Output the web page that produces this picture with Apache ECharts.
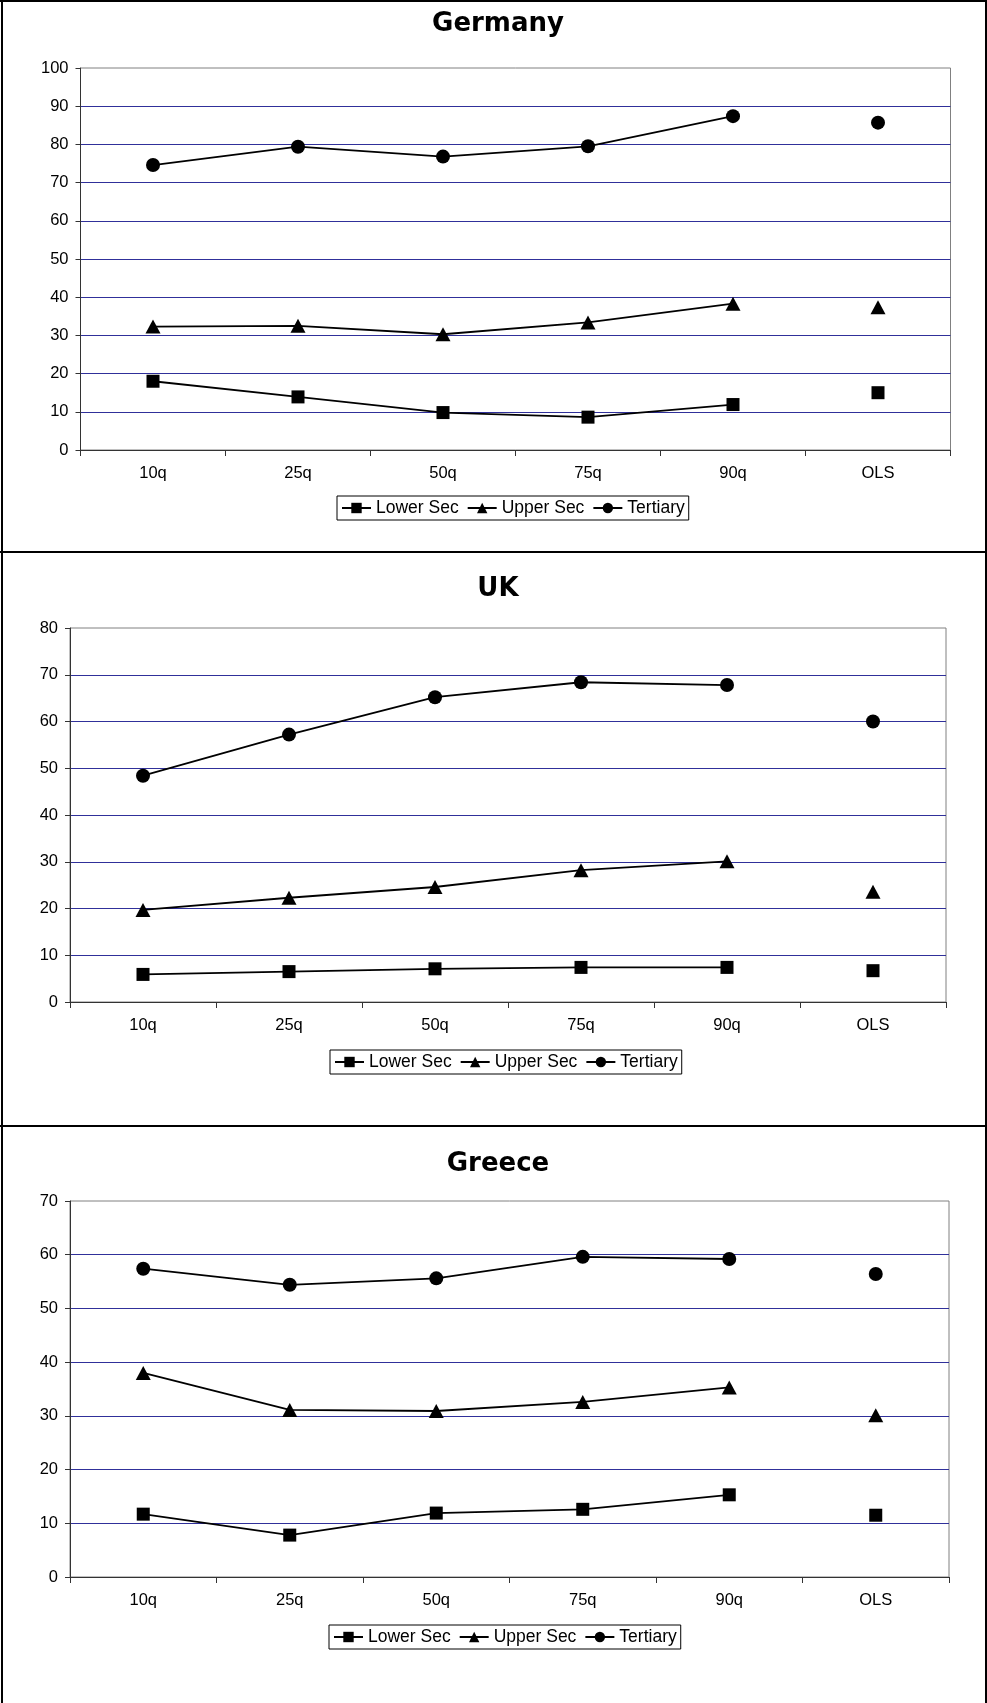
<!DOCTYPE html>
<html>
<head>
<meta charset="utf-8">
<script src="https://cdn.jsdelivr.net/npm/echarts@6/dist/echarts.min.js"></script>
<style>
  html, body { margin: 0; padding: 0; background: #fff; }
  #chart { width: 987px; height: 1703px; }
</style>
</head>
<body>
<div id="chart"></div>
<script>
// Quantile regression returns by education level, three countries
const categories = ['10q', '25q', '50q', '75q', '90q', 'OLS'];
const levelNames = ['Lower Sec', 'Upper Sec', 'Tertiary'];
const countryNames = ['Germany', 'UK', 'Greece'];
const yMaxima = [100, 80, 70];

const germanyLower    = [18.0, 13.9, 9.8, 8.6, 11.9, 15.0];
const germanyUpper    = [32.3, 32.5, 30.3, 33.4, 38.3, 37.4];
const germanyTertiary = [74.6, 79.4, 76.8, 79.5, 87.4, 85.7];

const ukLower    = [5.9, 6.5, 7.1, 7.4, 7.4, 6.7];
const ukUpper    = [19.7, 22.3, 24.6, 28.2, 30.1, 23.6];
const ukTertiary = [48.4, 57.2, 65.2, 68.4, 67.8, 60.0];

const greeceLower    = [11.7, 7.8, 11.9, 12.6, 15.3, 11.5];
const greeceUpper    = [38.0, 31.1, 30.9, 32.6, 35.3, 30.1];
const greeceTertiary = [57.4, 54.4, 55.6, 59.6, 59.2, 56.4];

const countryData = [
  [germanyLower, germanyUpper, germanyTertiary],
  [ukLower, ukUpper, ukTertiary],
  [greeceLower, greeceUpper, greeceTertiary]
];

// Panel geometry (pixels)
const panelLayout = [
  { grid: { left: 80.5, top: 68, width: 870, height: 382 }, titleTop: 11,   legendLeft: 337, legendTop: 496 },
  { grid: { left: 70,   top: 628, width: 876, height: 374 }, titleTop: 576,  legendLeft: 330, legendTop: 1050 },
  { grid: { left: 70,   top: 1201, width: 879, height: 376 }, titleTop: 1151, legendLeft: 329, legendTop: 1625 }
];

const markerShapes = ['rect', 'triangle', 'circle'];
const markerSizes = [13, [15, 14], 14];
const labelFont = "'Liberation Sans', Arial, sans-serif";

const grids = [], xAxes = [], yAxes = [], titles = [], legends = [], series = [];

panelLayout.forEach((p, i) => {
  grids.push(Object.assign({
    show: true, borderColor: '#808080', borderWidth: 1, backgroundColor: 'transparent'
  }, p.grid));

  titles.push({
    text: countryNames[i],
    left: 498, top: p.titleTop, textAlign: 'center', padding: 0,
    textStyle: { fontFamily: "'DejaVu Sans', Verdana, sans-serif", fontWeight: 'bold', fontSize: 26, color: '#000' }
  });

  xAxes.push({
    type: 'category', gridIndex: i, data: categories, boundaryGap: true,
    axisLine: { lineStyle: { color: '#333', width: 1 } },
    axisTick: { show: true, length: 6, alignWithLabel: false, lineStyle: { color: '#333' } },
    axisLabel: { color: '#000', fontSize: 16.5, fontFamily: labelFont, margin: 15 },
    splitLine: { show: false }
  });

  yAxes.push({
    type: 'value', gridIndex: i, min: 0, max: yMaxima[i], interval: 10,
    axisLine: { show: true, lineStyle: { color: '#333', width: 1 } },
    axisTick: { show: true, length: 5, lineStyle: { color: '#333' } },
    axisLabel: { color: '#000', fontSize: 16.5, fontFamily: labelFont, margin: 12 },
    splitLine: { show: true, showMinLine: false, showMaxLine: false, lineStyle: { color: '#30309a', width: 1.2 } }
  });

  legends.push({
    data: levelNames, left: p.legendLeft, top: p.legendTop, orient: 'horizontal',
    itemWidth: 29, itemHeight: 13, itemGap: 8,
    padding: [3, 4, 3, 4], borderColor: '#000', borderWidth: 1, backgroundColor: '#fff',
    selectedMode: false,
    textStyle: { color: '#000', fontSize: 17.5, fontFamily: labelFont }
  });

  countryData[i].forEach((values, k) => {
    // Quantile estimates joined by a line
    series.push({
      type: 'line', name: levelNames[k], xAxisIndex: i, yAxisIndex: i,
      data: values.map((v, j) => (j < 5 ? v : '-')),
      symbol: markerShapes[k], symbolSize: markerSizes[k], showSymbol: true,
      color: '#000',
      lineStyle: { color: '#000', width: 1.8 },
      itemStyle: { color: '#000' },
      z: 3
    });
    // OLS estimate stands alone
    series.push({
      type: 'scatter', name: levelNames[k], xAxisIndex: i, yAxisIndex: i,
      data: values.map((v, j) => (j === 5 ? v : '-')),
      symbol: markerShapes[k], symbolSize: markerSizes[k],
      itemStyle: { color: '#000', opacity: 1 },
      z: 3
    });
  });
});

// Frames around the three panels
const frame = { stroke: '#000', lineWidth: 2 };
const graphics = [
  { type: 'line', shape: { x1: 2, y1: 0, x2: 2, y2: 1703 }, style: frame, silent: true },
  { type: 'line', shape: { x1: 986, y1: 0, x2: 986, y2: 1703 }, style: frame, silent: true },
  { type: 'line', shape: { x1: 0, y1: 1, x2: 987, y2: 1 }, style: frame, silent: true },
  { type: 'line', shape: { x1: 0, y1: 552, x2: 987, y2: 552 }, style: frame, silent: true },
  { type: 'line', shape: { x1: 0, y1: 1126, x2: 987, y2: 1126 }, style: frame, silent: true }
];

const chart = echarts.init(document.getElementById('chart'), null, { renderer: 'canvas', width: 987, height: 1703 });
chart.setOption({
  animation: false,
  backgroundColor: '#fff',
  title: titles,
  grid: grids,
  xAxis: xAxes,
  yAxis: yAxes,
  legend: legends,
  series: series,
  graphic: graphics
});
</script>
</body>
</html>
